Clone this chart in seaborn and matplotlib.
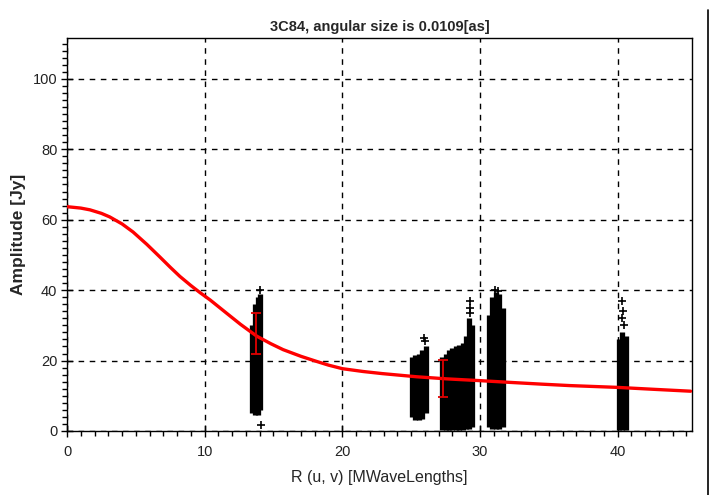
import matplotlib
matplotlib.use("Agg")
import matplotlib.pyplot as plt
from matplotlib.ticker import MultipleLocator
from matplotlib.lines import Line2D
import seaborn as sns
import pandas as pd

# ---------------- data ----------------
title = "3C84, angular size is 0.0109[as]"
x_label = "R (u, v) [MWaveLengths]"
y_label = "Amplitude [Jy]"

# model curve (red)
curve_x = [0, 1.0, 1.67, 2.5, 3.1, 4.0, 4.8, 5.8, 6.75, 7.5, 8.2, 9.0, 9.66,
           10.4, 11.1, 11.8, 12.6, 13.3, 13.8, 14.8, 15.7, 17.0, 18.1, 19.0,
           20.0, 21.5, 22.9, 25.4, 27.6, 30.0, 32.2, 34.5, 36.5, 39.9, 42.8,
           45.3]
curve_y = [63.7, 63.3, 62.8, 61.8, 60.8, 58.8, 56.5, 53.0, 49.4, 46.5, 43.9,
           41.3, 39.3, 37.2, 35.0, 32.8, 30.3, 28.3, 26.9, 24.8, 23.1, 21.2,
           19.8, 18.7, 17.7, 16.9, 16.3, 15.4, 14.8, 14.3, 13.8, 13.3, 12.9,
           12.4, 11.8, 11.3]

# dense visibility clusters, read as column ranges
col_x = [13.45, 13.65, 13.85, 14.05,
         25.05, 25.3, 25.55, 25.8, 26.05,
         27.25, 27.5, 27.75, 28.0, 28.25, 28.5, 28.75, 29.0, 29.2, 29.45,
         30.65, 30.9, 31.15, 31.4, 31.65,
         40.1, 40.35, 40.6]
col_lo = [5.0, 4.5, 4.5, 6.0,
          4.0, 3.0, 3.0, 3.5, 5.0,
          0.3, 0.3, 0.3, 0.3, 0.3, 0.3, 0.3, 0.5, 0.5, 1.0,
          1.0, 0.5, 0.5, 0.5, 1.0,
          0.3, 0.3, 0.3]
col_hi = [30.0, 36.0, 38.0, 39.0,
          21.0, 21.5, 22.0, 23.0, 24.0,
          21.0, 22.0, 23.0, 23.5, 24.0, 24.5, 25.0, 27.0, 32.0, 30.0,
          33.0, 38.0, 39.5, 39.0, 35.0,
          26.0, 28.0, 27.0]

# isolated points
pt_x = [14.1, 14.05, 26.0, 25.95, 29.3, 29.3, 29.25, 40.35, 40.4, 40.3, 40.45, 31.1, 31.3]
pt_y = [1.7, 40.0, 25.5, 26.5, 37.0, 35.0, 33.5, 37.0, 34.0, 32.0, 30.0, 40.0, 39.8]

# error bars
err_x = [13.7, 27.3]
err_lo = [22.0, 9.7]
err_hi = [33.5, 20.2]

x_max = 45.4
y_max = 111.6

# ---------------- plot ----------------
sns.set_theme(style="white")
plt.rcParams["font.family"] = ["Liberation Sans", "DejaVu Sans"]

fig = plt.figure(figsize=(7.10, 4.95), dpi=100)
ax = fig.add_axes([67 / 710, 64 / 495, 625 / 710, 393 / 495])

ax.set_xlim(0, x_max)
ax.set_ylim(0, y_max)

ax.grid(True, which="major", color="black", linestyle=(0, (4, 4)), linewidth=1.0)
ax.set_axisbelow(True)

# clusters
ax.vlines(col_x, col_lo, col_hi, colors="black", linewidth=3.8, zorder=3)
pts = pd.DataFrame({"x": pt_x, "y": pt_y})
sns.scatterplot(data=pts, x="x", y="y", marker="+", color="black", s=30,
                linewidth=1.2, ax=ax, zorder=3, legend=False)

# model curve
cdf = pd.DataFrame({"x": curve_x, "y": curve_y})
sns.lineplot(data=cdf, x="x", y="y", color="#ff0000", linewidth=2.4, ax=ax,
             zorder=5, estimator=None, sort=False,
             solid_joinstyle="round", solid_capstyle="round")

# error bars
for xe, lo, hi in zip(err_x, err_lo, err_hi):
    ax.errorbar([xe], [(lo + hi) / 2], yerr=[[(hi - lo) / 2], [(hi - lo) / 2]],
                fmt="none", ecolor="#e00000", elinewidth=1.3, capsize=3.5,
                capthick=1.3, zorder=6)

# ticks
ax.xaxis.set_major_locator(MultipleLocator(10))
ax.xaxis.set_minor_locator(MultipleLocator(1))
ax.yaxis.set_major_locator(MultipleLocator(20))
ax.yaxis.set_minor_locator(MultipleLocator(2))
ax.tick_params(axis="both", which="major", direction="inout", length=8, width=1,
               color="black", labelsize=10.5, labelcolor="#222222", pad=3)
ax.tick_params(axis="both", which="minor", direction="out", length=3.5, width=1,
               color="black")
ax.tick_params(axis="x", which="major", pad=6)
ax.tick_params(bottom=True, left=True, which="both")

for sp in ax.spines.values():
    sp.set_color("black")
    sp.set_linewidth(1.0)

ax.set_title(title, fontsize=10.5, fontweight="bold", pad=5)
ax.set_xlabel(x_label, fontsize=11.5, labelpad=8)
ax.set_ylabel(y_label, fontsize=12.5, fontweight="bold", labelpad=5)

# right frame line of the window
fig.add_artist(Line2D([708 / 710, 708 / 710], [0.0, 1 - 10 / 495],
                      color="black", linewidth=1.2))

fig.savefig("out.png", dpi=100, facecolor="white")
